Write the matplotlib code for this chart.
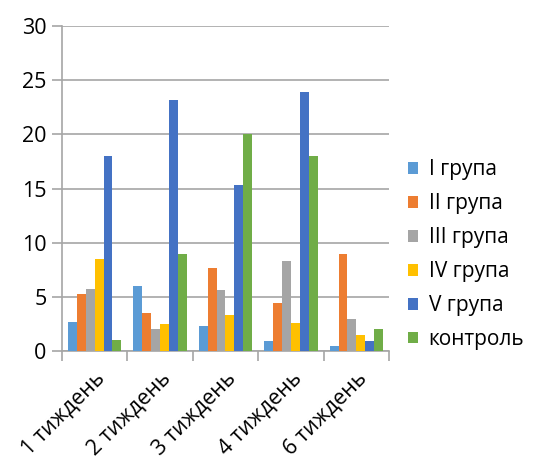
import numpy as np
import matplotlib
matplotlib.use("Agg")
import matplotlib.pyplot as plt

plt.rcParams['font.family'] = ['Open Sans', 'DejaVu Sans']

weeks = ['1 тиждень', '2 тиждень', '3 тиждень', '4 тиждень', '6 тиждень']
groups = ['I група', 'II група', 'III група', 'IV група', 'V група', 'контроль']
colors = ['#5B9BD5', '#ED7D31', '#A5A5A5', '#FFC000', '#4472C4', '#70AD47']

g1 = [2.7, 6.0, 2.3, 0.95, 0.5]
g2 = [5.3, 3.5, 7.7, 4.4, 9.0]
g3 = [5.7, 2.0, 5.6, 8.3, 3.0]
g4 = [8.5, 2.5, 3.3, 2.6, 1.5]
g5 = [18.0, 23.2, 15.3, 23.9, 0.95]
control = [1.0, 9.0, 20.0, 18.0, 2.0]
series = [g1, g2, g3, g4, g5, control]

fig = plt.figure(figsize=(5.41, 4.63), dpi=100)
ax = fig.add_axes([0.1146, 0.2419, 0.6044, 0.7019])

x = np.arange(len(weeks))
w = 0.815 / len(series)
for i, vals in enumerate(series):
    ax.bar(x - 0.815 / 2 + w * (i + 0.5), vals, width=w, color=colors[i],
           label=groups[i], zorder=3)

ax.set_xlim(-0.5, len(weeks) - 0.5)
ax.set_ylim(0, 30)
ax.set_yticks(range(0, 31, 5))
ax.yaxis.grid(True, color='#A6A6A6', linewidth=1.2, zorder=0)

grid_col = '#A6A6A6'
for s in ['top', 'right']:
    ax.spines[s].set_visible(False)
for s in ['left', 'bottom']:
    ax.spines[s].set_color(grid_col)
    ax.spines[s].set_linewidth(1.2)

# labels at category centres, tick marks at category boundaries
ax.set_xticks(x)
ax.set_xticklabels(weeks, rotation=45, ha='right', rotation_mode='anchor', fontsize=15.5)
ax.set_xticks(np.arange(-0.5, len(weeks)), minor=True)
ax.tick_params(axis='x', which='major', length=0, pad=12)
ax.tick_params(axis='x', which='minor', length=7, color=grid_col, width=1.2)
ax.tick_params(axis='y', length=7, color=grid_col, width=1.2, labelsize=15.5, pad=4)

leg = ax.legend(loc='center left', bbox_to_anchor=(0.754, 0.45),
                bbox_transform=fig.transFigure, frameon=False, fontsize=15,
                handlelength=0.5, handleheight=0.5, handletextpad=0.5,
                labelspacing=0.62, borderpad=0, borderaxespad=0)

fig.savefig('out.png', dpi=100)
